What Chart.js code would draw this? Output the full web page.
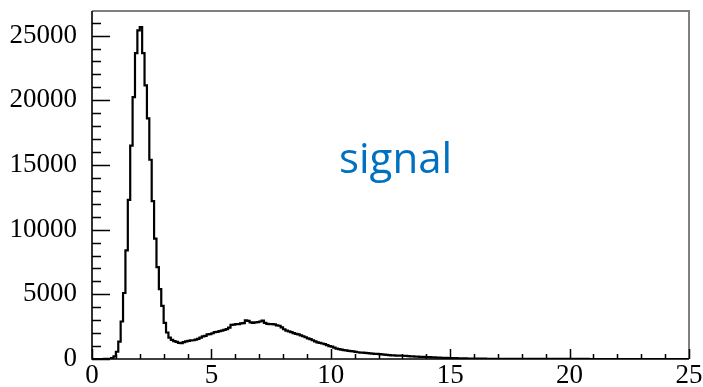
<!DOCTYPE html>
<html>
<head>
<meta charset="utf-8">
<script src="https://cdn.jsdelivr.net/npm/chart.js@4/dist/chart.umd.min.js"></script>
<style>
  html, body { margin: 0; padding: 0; background: #ffffff; }
  #wrap { width: 703px; height: 387px; position: relative; }
</style>
</head>
<body>
<div id="wrap"><canvas id="c" width="703" height="387"></canvas></div>
<script>
// Histogram binning
const xMin = 0;
const xMax = 25;
const binWidth = 0.1;

// Entries per bin (250 bins, 0.1 wide, starting at 0)
const counts = [
  0, 0, 0, 0, 0, 5, 10, 20, 60, 200,
  560, 1350, 2900, 5100, 8400, 12300, 16500, 20250, 23650, 25400,
  25650, 23650, 21150, 18600, 15400, 12200, 9300, 7100, 5400, 4100,
  2800, 2050, 1650, 1480, 1380, 1320, 1250, 1230, 1300, 1360,
  1400, 1440, 1450, 1500, 1550, 1650, 1750, 1780, 1900, 1930,
  1990, 2080, 2100, 2150, 2190, 2250, 2310, 2420, 2640, 2660,
  2690, 2700, 2760, 2780, 2980, 2950, 2830, 2800, 2830, 2850,
  2900, 2970, 2800, 2720, 2700, 2700, 2680, 2600, 2570, 2450,
  2300, 2200, 2130, 2080, 2000, 1940, 1900, 1820, 1760, 1680,
  1600, 1540, 1450, 1360, 1290, 1250, 1200, 1150, 1080, 1000,
  950, 880, 800, 760, 720, 680, 660, 630, 610, 590,
  550, 520, 500, 490, 480, 460, 440, 420, 400, 390,
  380, 360, 340, 320, 300, 285, 275, 265, 260, 255,
  250, 235, 220, 210, 200, 190, 180, 170, 165, 160,
  150, 140, 130, 120, 110, 100, 95, 85, 80, 75,
  70, 65, 60, 55, 50, 50, 45, 40, 40, 35,
  35, 30, 30, 25, 25, 20, 20, 20, 18, 15,
  15, 14, 13, 12, 12, 11, 10, 10, 9, 9,
  8, 8, 7, 7, 7, 6, 6, 6, 5, 5,
  5, 5, 4, 4, 4, 4, 3, 3, 3, 3,
  3, 3, 2, 2, 2, 2, 2, 2, 1, 1,
  1, 1, 1, 1, 1, 1, 1, 0, 1, 0,
  0, 1, 0, 0, 1, 0, 0, 0, 0, 0,
  0, 0, 0, 0, 0, 0, 0, 0, 0, 0,
  0, 0, 0, 0, 0, 0, 0, 0, 0, 0
];

// Axis ticks
const xTickLabels = [0, 5, 10, 15, 20, 25];
const yTickLabels = [0, 5000, 10000, 15000, 20000, 25000];
const xMinorStep = 1;
const yMinorStep = 1000;
const yMax = 26900;

const labelText = 'signal';

// Stepped outline: one point on each bin's lower edge, plus the closing upper edge
const outline = counts.map((v, i) => ({ x: xMin + i * binWidth, y: v }));
outline.push({ x: xMin + counts.length * binWidth, y: counts[counts.length - 1] });

// Frame, ROOT-style inward ticks and the text label
const framePlugin = {
  id: 'frame',
  afterDatasetsDraw(chart) {
    const { ctx, chartArea: a, scales } = chart;
    const xs = scales.x, ys = scales.y;
    ctx.save();

    // top and right frame
    ctx.strokeStyle = '#7f7f7f';
    ctx.lineWidth = 2;
    ctx.beginPath();
    ctx.moveTo(a.left, a.top);
    ctx.lineTo(a.right, a.top);
    ctx.lineTo(a.right, a.bottom);
    ctx.stroke();

    // axes
    ctx.strokeStyle = '#000000';
    ctx.lineWidth = 1.6;
    ctx.beginPath();
    ctx.moveTo(a.left, a.top);
    ctx.lineTo(a.left, a.bottom);
    ctx.lineTo(a.right, a.bottom);
    ctx.stroke();

    // x ticks
    ctx.lineWidth = 1.5;
    ctx.beginPath();
    for (let v = xMin; v <= xMax + 1e-9; v += xMinorStep) {
      const px = Math.round(xs.getPixelForValue(v)) + 0.5;
      const major = xTickLabels.includes(Math.round(v));
      const len = major ? 10 : 5;
      ctx.moveTo(px, a.bottom);
      ctx.lineTo(px, a.bottom - len);
    }
    // y ticks
    for (let v = 0; v <= yMax; v += yMinorStep) {
      const py = Math.round(ys.getPixelForValue(v)) + 0.5;
      const major = yTickLabels.includes(v);
      const len = major ? 18 : 9;
      ctx.moveTo(a.left, py);
      ctx.lineTo(a.left + len, py);
    }
    ctx.stroke();

    // label
    ctx.fillStyle = '#0070c0';
    ctx.font = '42px "Open Sans"';
    ctx.textAlign = 'left';
    ctx.textBaseline = 'alphabetic';
    ctx.fillText(labelText, 339, 173);
    ctx.restore();
  }
};

const tickFont = { family: '"Liberation Serif", "Times New Roman", serif', size: 27 };

new Chart(document.getElementById('c'), {
  type: 'line',
  data: {
    datasets: [{
      data: outline,
      stepped: 'before',
      borderColor: '#000000',
      borderWidth: 2.2,
      pointRadius: 0,
      fill: false,
      tension: 0
    }]
  },
  options: {
    responsive: false,
    animation: false,
    devicePixelRatio: 1,
    layout: { padding: { top: 11, right: 14, left: 0, bottom: 0 } },
    plugins: { legend: { display: false }, tooltip: { enabled: false } },
    scales: {
      x: {
        type: 'linear',
        min: xMin,
        max: xMax,
        grid: { display: false },
        border: { display: false },
        ticks: {
          font: tickFont, color: '#000000', padding: -7, maxRotation: 0, autoSkip: false,
          callback: v => String(v)
        },
        afterBuildTicks(s) { s.ticks = xTickLabels.map(v => ({ value: v })); },
        afterFit(s) { s.height = 28; s.paddingLeft = 0; s.paddingRight = 0; }
      },
      y: {
        type: 'linear',
        min: 0,
        max: yMax,
        grid: { display: false },
        border: { display: false },
        ticks: {
          font: tickFont, color: '#000000', padding: 7, autoSkip: false,
          callback: v => String(v)
        },
        afterBuildTicks(s) { s.ticks = yTickLabels.map(v => ({ value: v })); },
        afterFit(s) { s.width = 92; s.paddingTop = 0; s.paddingBottom = 0; }
      }
    }
  },
  plugins: [framePlugin]
});
</script>
</body>
</html>
